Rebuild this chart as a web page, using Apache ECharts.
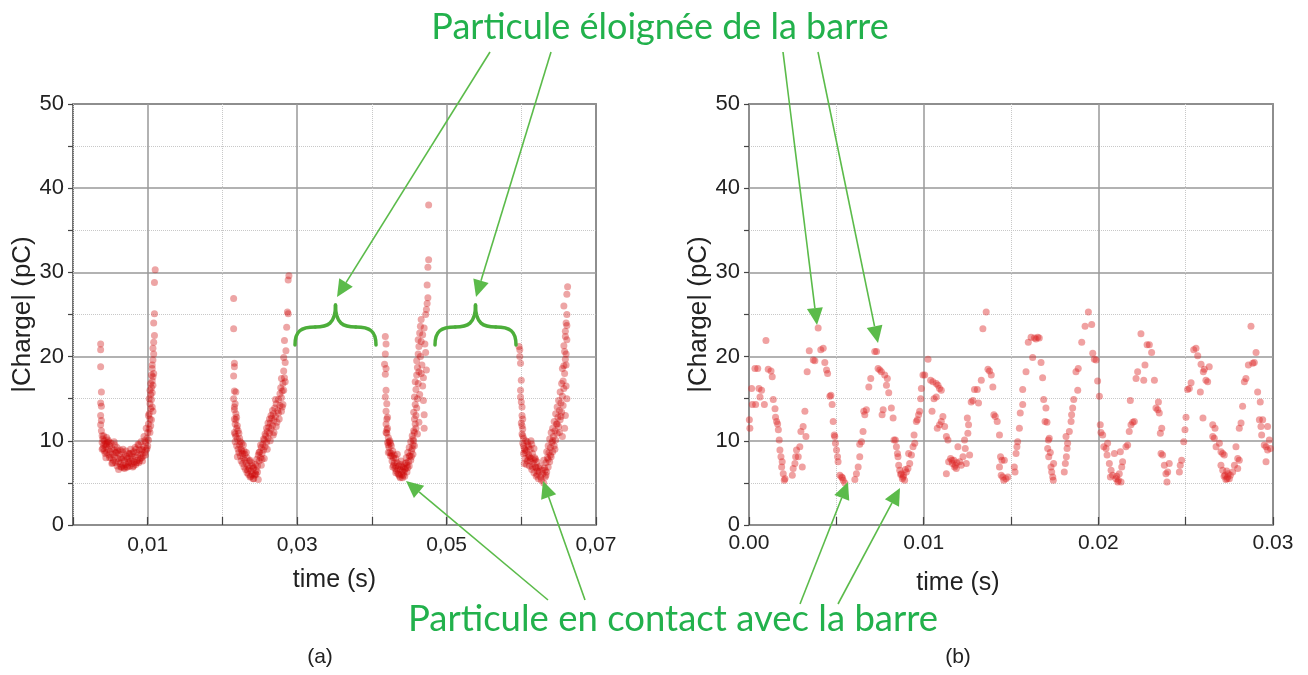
<!DOCTYPE html>
<html>
<head>
<meta charset="utf-8">
<script src="https://cdn.jsdelivr.net/npm/echarts@6/dist/echarts.min.js"></script>
<style>
  html, body { margin: 0; padding: 0; background: #fff; }
  #main { width: 1308px; height: 675px; }
</style>
</head>
<body>
<div id="main"></div>
<script>
// plot (a): time (s), |charge| (pC), four contact bursts
const burstA1 = [[0.0037,21.5],[0.0037,20.8],[0.0037,18.8],[0.0038,15.8],[0.0037,14.5],[0.0038,14.1],[0.0037,13],[0.0038,12.4],[0.0037,11.9],[0.0038,11.2],[0.0039,10.6],[0.0040,10.2],[0.0039,9.8],[0.0041,9.5],[0.0040,9.1],[0.0042,10.0],[0.0043,9.6],[0.0042,8.8],[0.0044,9.3],[0.0045,10.4],[0.0046,9.8],[0.0045,8.6],[0.0047,9.0],[0.0048,8.3],[0.0049,9.4],[0.0050,8.7],[0.0051,8.0],[0.0052,9.1],[0.0053,8.4],[0.0054,7.7],[0.0055,8.9],[0.0056,8.1],[0.0057,7.4],[0.0058,8.6],[0.0059,7.0],[0.0060,7.9],[0.0061,6.6],[0.0062,8.4],[0.0063,7.3],[0.0064,6.9],[0.0065,7.8],[0.0066,8.7],[0.0067,7.1],[0.0068,6.8],[0.0069,7.6],[0.0070,8.3],[0.0071,7.2],[0.0072,6.9],[0.0073,7.9],[0.0074,7.4],[0.0075,8.5],[0.0076,7.0],[0.0077,7.7],[0.0078,8.2],[0.0079,7.3],[0.0080,7.8],[0.0081,8.7],[0.0082,7.5],[0.0083,8.1],[0.0084,7.2],[0.0085,8.6],[0.0086,7.7],[0.0087,8.3],[0.0088,7.4],[0.0089,8.9],[0.0090,7.9],[0.0091,8.4],[0.0092,9.0],[0.0093,7.6],[0.0094,8.2],[0.0095,9.3],[0.0096,8.6],[0.0097,9.8],[0.0098,8.9],[0.0099,10.3],[0.0100,9.4],[0.0100,11.0],[0.0101,10.1],[0.0101,12.0],[0.0102,11.4],[0.0102,13.2],[0.0103,12.6],[0.0103,14.4],[0.0104,13.8],[0.0104,15.5],[0.0105,14.9],[0.0105,16.3],[0.0106,15.7],[0.0106,17.1],[0.0107,16.6],[0.0107,17.6],[0.0106,18.6],[0.0107,19.6],[0.0108,20.3],[0.0107,21.0],[0.0108,21.7],[0.0109,22.5],[0.0108,24.0],[0.0109,25.1],[0.0109,28.8],[0.0110,30.3],
  [0.0044,8.0],[0.0048,9.9],[0.0052,7.3],[0.0056,9.5],[0.0060,8.8],[0.0064,8.0],[0.0068,8.0],[0.0072,8.1],[0.0076,8.5],[0.0080,6.9],[0.0084,9.0],[0.0088,9.5],[0.0092,8.0],[0.0096,10.0],[0.0098,11.5],[0.0103,11.0],[0.0105,12.5],[0.0104,16.8],[0.0106,14.0],
  [0.0039,9.0],[0.0041,10.6],[0.0043,8.5],[0.0045,9.6],[0.0047,10.1],[0.0049,8.0],[0.0051,9.7],[0.0053,7.4],[0.0055,9.9],[0.0057,8.6],[0.0059,9.2],[0.0061,7.5],[0.0063,8.9],[0.0065,6.9],[0.0067,9.0],[0.0069,6.7],[0.0071,8.8],[0.0073,6.9],[0.0075,7.5],[0.0077,9.0],[0.0079,8.5],[0.0081,7.0],[0.0083,9.2],[0.0085,7.4],[0.0087,9.6],[0.0089,7.6],[0.0091,9.9],[0.0093,8.9],[0.0095,10.5],[0.0097,8.3],[0.0099,9.1],[0.0101,13.0],[0.0102,15.0],[0.0103,16.0],[0.0104,11.8],[0.0105,17.8],[0.0106,19.0],[0.0107,13.5],[0.0108,18.0]];
const burstA2 = [[0.0215,26.9],[0.0215,23.3],[0.0216,19.2],[0.0216,18.8],[0.0215,17.7],[0.0216,15.9],[0.0218,15.8],[0.0215,15.0],[0.0217,14.4],[0.0216,13.7],[0.0218,13.2],[0.0216,12.6],[0.0217,12.0],[0.0219,11.5],[0.0216,11.0],[0.0218,10.5],[0.0217,9.9],[0.0219,9.4],[0.0220,10.2],[0.0221,9.0],[0.0222,8.6],[0.0220,8.1],[0.0223,9.5],[0.0224,8.2],[0.0225,7.6],[0.0226,8.8],[0.0227,7.3],[0.0228,8.0],[0.0229,6.9],[0.0230,7.7],[0.0231,6.6],[0.0232,7.3],[0.0233,6.2],[0.0234,7.0],[0.0235,6.0],[0.0236,6.7],[0.0237,5.7],[0.0238,6.4],[0.0239,7.4],[0.0240,6.0],[0.0241,5.5],[0.0242,6.8],[0.0243,5.9],[0.0244,7.2],[0.0245,6.5],[0.0246,7.8],[0.0247,7.0],[0.0248,8.3],[0.0249,7.6],[0.0250,8.7],[0.0251,8.0],[0.0252,9.2],[0.0253,8.5],[0.0254,9.6],[0.0255,8.9],[0.0256,10.1],[0.0257,9.3],[0.0258,10.6],[0.0259,9.8],[0.0260,11.1],[0.0261,10.3],[0.0262,11.6],[0.0263,10.9],[0.0264,12.1],[0.0265,11.4],[0.0266,12.7],[0.0267,11.8],[0.0268,13.2],[0.0269,12.4],[0.0270,13.9],[0.0271,12.9],[0.0272,14.4],[0.0274,13.6],[0.0275,14.9],[0.0277,14.2],[0.0279,15.1],[0.0280,15.9],[0.0281,16.8],[0.0283,17.5],[0.0282,18.3],[0.0284,19.3],[0.0285,20.7],[0.0283,21.9],[0.0286,23.5],[0.0287,25.3],[0.0288,25.1],[0.0288,29.1],[0.0289,29.6],
  [0.0218,12.5],[0.0221,11.2],[0.0223,10.3],[0.0226,9.7],[0.0229,8.8],[0.0233,8.0],[0.0237,7.7],[0.0241,6.7],[0.0244,6.1],[0.0248,5.4],[0.0252,7.1],[0.0256,7.9],[0.0260,9.0],[0.0264,10.0],[0.0268,10.7],[0.0272,11.7],[0.0276,12.6],[0.0279,13.5],[0.0281,14.3],[0.0278,16.3],[0.0282,16.0],
  [0.0216,14.0],[0.0217,10.8],[0.0219,12.8],[0.0220,11.8],[0.0222,10.9],[0.0224,9.9],[0.0225,9.0],[0.0227,8.5],[0.0228,9.5],[0.0230,8.4],[0.0232,8.6],[0.0234,6.5],[0.0236,7.6],[0.0238,5.8],[0.0240,7.0],[0.0242,5.5],[0.0245,6.0],[0.0247,6.3],[0.0249,8.6],[0.0251,9.5],[0.0253,7.8],[0.0255,10.2],[0.0257,10.8],[0.0259,11.5],[0.0261,12.1],[0.0263,12.6],[0.0265,13.0],[0.0267,13.6],[0.0269,11.0],[0.0271,14.9],[0.0273,12.2],[0.0275,13.3],[0.0277,15.6],[0.0279,17.4],[0.0280,14.0],[0.0282,19.9],[0.0284,17.0]];
const burstA3 = [[0.0418,22.4],[0.0419,21.5],[0.0418,20.3],[0.0417,19.1],[0.0419,18.6],[0.0418,17.9],[0.0419,16.0],[0.0418,15.2],[0.0420,14.4],[0.0419,13.5],[0.0420,12.6],[0.0419,12.0],[0.0421,11.5],[0.0420,10.9],[0.0422,10.4],[0.0421,9.8],[0.0423,9.2],[0.0422,8.6],[0.0424,10.0],[0.0425,8.2],[0.0426,9.4],[0.0427,7.6],[0.0428,8.8],[0.0429,7.1],[0.0430,8.3],[0.0431,6.7],[0.0432,7.9],[0.0433,6.4],[0.0434,7.4],[0.0435,6.1],[0.0436,7.0],[0.0437,5.8],[0.0438,6.6],[0.0439,7.6],[0.0440,6.0],[0.0441,5.6],[0.0442,6.9],[0.0443,6.3],[0.0444,7.3],[0.0445,6.7],[0.0446,8.0],[0.0447,7.1],[0.0448,8.6],[0.0449,7.5],[0.0450,9.2],[0.0451,8.2],[0.0452,9.9],[0.0453,8.8],[0.0454,10.6],[0.0455,9.5],[0.0456,11.2],[0.0457,12.6],[0.0456,13.4],[0.0458,14.3],[0.0457,15.2],[0.0459,16.1],[0.0458,17.0],[0.0460,17.8],[0.0461,18.7],[0.0460,19.5],[0.0462,20.3],[0.0463,21.2],[0.0462,22.0],[0.0464,22.8],[0.0465,23.6],[0.0466,24.4],[0.0467,19.0],[0.0468,16.5],[0.0469,14.8],[0.0470,13.1],[0.0471,21.5],[0.0472,25.0],[0.0473,25.6],[0.0474,26.3],[0.0475,27.0],[0.0474,28.5],[0.0475,30.6],[0.0476,31.5],[0.0476,38.0],[0.0470,11.5],[0.0466,18.0],[0.0464,15.5],[0.0463,12.2],[0.0461,10.8],[0.0459,11.5],
  [0.0420,11.3],[0.0423,9.9],[0.0426,8.5],[0.0429,8.0],[0.0432,7.0],[0.0435,6.6],[0.0438,5.6],[0.0441,6.4],[0.0444,5.8],[0.0447,6.3],[0.0450,7.0],[0.0453,8.1],[0.0455,10.2],[0.0457,9.4],[0.0460,13.9],
  [0.0419,11.0],[0.0421,12.8],[0.0422,9.5],[0.0424,8.6],[0.0425,9.7],[0.0427,8.2],[0.0428,6.9],[0.0430,7.4],[0.0432,6.2],[0.0434,8.4],[0.0436,6.0],[0.0438,7.2],[0.0440,6.9],[0.0442,5.9],[0.0444,6.6],[0.0446,7.4],[0.0448,6.8],[0.0450,8.2],[0.0452,7.7],[0.0454,9.1],[0.0455,8.4],[0.0456,10.0],[0.0457,11.0],[0.0458,12.0],[0.0459,13.0],[0.0461,15.0],[0.0462,16.8],[0.0463,18.2],[0.0465,20.0],[0.0466,21.8],[0.0468,22.6],[0.0469,17.5],[0.0470,23.4],[0.0472,20.5],[0.0473,18.4]];
const burstA4 = [[0.0597,21.2],[0.0598,20.8],[0.0598,20.0],[0.0599,19.2],[0.0600,17.2],[0.0599,15.2],[0.0600,14.6],[0.0601,14.0],[0.0601,13.0],[0.0600,12.1],[0.0602,11.4],[0.0601,10.8],[0.0603,10.3],[0.0602,9.7],[0.0604,9.1],[0.0603,8.5],[0.0605,7.9],[0.0604,7.3],[0.0606,10.0],[0.0607,8.8],[0.0608,7.6],[0.0609,9.5],[0.0610,8.3],[0.0611,7.0],[0.0612,9.0],[0.0613,7.9],[0.0614,6.6],[0.0615,8.5],[0.0616,7.3],[0.0617,6.2],[0.0618,8.0],[0.0619,6.9],[0.0620,5.8],[0.0621,7.5],[0.0622,6.4],[0.0623,5.5],[0.0625,7.0],[0.0627,5.3],[0.0629,6.1],[0.0630,5.0],[0.0631,6.8],[0.0632,5.7],[0.0633,7.4],[0.0634,6.3],[0.0635,8.0],[0.0636,6.9],[0.0637,8.6],[0.0638,7.5],[0.0639,9.2],[0.0640,8.1],[0.0641,9.8],[0.0642,8.7],[0.0643,10.5],[0.0644,9.4],[0.0645,11.2],[0.0646,10.1],[0.0647,12.0],[0.0648,10.9],[0.0649,12.8],[0.0650,11.7],[0.0651,13.6],[0.0652,12.5],[0.0653,14.5],[0.0654,13.4],[0.0655,15.3],[0.0656,14.2],[0.0657,16.2],[0.0656,17.1],[0.0658,18.0],[0.0657,18.9],[0.0659,19.7],[0.0658,20.6],[0.0660,20.3],[0.0659,22.4],[0.0661,22.0],[0.0660,24.0],[0.0661,23.7],[0.0657,26.0],[0.0661,27.4],[0.0662,28.3],[0.0660,16.5],[0.0661,15.0],[0.0659,13.0],[0.0658,11.5],[0.0655,10.5],
  [0.0602,12.6],[0.0605,8.9],[0.0608,9.9],[0.0611,8.1],[0.0614,9.6],[0.0617,7.7],[0.0620,6.8],[0.0624,6.3],[0.0626,5.7],[0.0633,5.9],[0.0636,7.8],[0.0639,8.3],[0.0642,10.0],[0.0645,9.0],[0.0648,12.0],[0.0651,11.0],[0.0653,12.9],
  [0.0599,16.0],[0.0601,11.8],[0.0602,10.6],[0.0603,9.4],[0.0605,8.6],[0.0607,7.2],[0.0609,8.0],[0.0610,9.3],[0.0612,7.6],[0.0613,10.0],[0.0615,6.9],[0.0617,9.1],[0.0619,7.8],[0.0621,6.0],[0.0623,6.8],[0.0628,6.5],[0.0630,7.7],[0.0632,6.5],[0.0634,8.7],[0.0636,9.4],[0.0638,10.2],[0.0640,11.0],[0.0642,11.5],[0.0644,12.3],[0.0646,13.2],[0.0648,14.0],[0.0650,14.8],[0.0652,15.8],[0.0654,16.8],[0.0655,18.6],[0.0657,21.3],[0.0659,23.0],[0.0660,19.0],[0.0661,25.0]];

// plot (b): first 30 ms, sampled points
const pointsB = [[0.00005,11.5],[0.00002,12.5],[0.00015,16.2],[0.00019,14.3],[0.00034,18.6],[0.00050,18.6],[0.00038,14.3],[0.00057,16.2],[0.00072,16.0],[0.00063,15.2],[0.00097,21.9],[0.00088,14.3],[0.00110,18.5],[0.00126,18.3],[0.00133,17.6],[0.00139,14.9],[0.00149,13.8],[0.00152,12.8],[0.00158,12.3],[0.00164,12.0],[0.00168,11.3],[0.00173,10.1],[0.00177,8.9],[0.00183,8.1],[0.00190,7.5],[0.00187,6.9],[0.00196,6.1],[0.00202,5.3],[0.00206,5.5],
  [0.00248,5.9],[0.00253,6.7],[0.00263,7.3],[0.00267,8.1],[0.00272,8.9],[0.00282,8.1],[0.00291,9.3],[0.00297,11.1],[0.00310,11.7],[0.00305,6.9],[0.00320,13.5],[0.00326,10.5],[0.00333,18.2],[0.00345,20.7],[0.00368,19.6],[0.00377,19.5],[0.00396,23.4],[0.00411,20.8],[0.00425,21.0],[0.00434,19.3],[0.00444,18.4],[0.00450,18.0],[0.00463,15.3],[0.00469,15.4],[0.00476,14.3],[0.00482,12.3],[0.00488,10.7],[0.00491,10.5],[0.00495,9.7],[0.00501,8.9],[0.00507,8.1],[0.00510,7.5],[0.00520,5.9],[0.00530,5.7],[0.00539,5.3],[0.00549,5.0],[0.00535,5.6],
  [0.00606,5.4],[0.00615,6.1],[0.00625,6.9],[0.00634,8.1],[0.00634,9.6],[0.00644,9.9],[0.00653,11.1],[0.00657,13.5],[0.00672,13.7],[0.00663,13.1],[0.00686,16.4],[0.00697,17.4],[0.00720,20.6],[0.00730,20.6],[0.00739,18.6],[0.00749,18.4],[0.00758,18.2],[0.00768,13.7],[0.00762,13.1],[0.00777,17.8],[0.00792,17.4],[0.00787,16.6],[0.00800,15.7],[0.00815,13.9],[0.00825,12.7],[0.00830,10.1],[0.00838,10.1],[0.00844,9.3],[0.00850,8.5],[0.00853,8.1],[0.00857,7.1],[0.00863,6.5],[0.00872,6.1],[0.00882,5.7],[0.00891,5.3],[0.00901,6.3],[0.00910,6.7],[0.00920,7.3],[0.00914,8.5],[0.00930,8.3],[0.00939,9.3],[0.00949,9.7],[0.00945,10.7],[0.00958,12.3],[0.00964,12.5],[0.00971,13.1],[0.00977,13.5],[0.00983,15.0],[0.00987,16.2],[0.00996,17.8],[0.01006,17.8],[0.00878,5.5],[0.00868,6.0],[0.00885,5.9],[0.00895,6.6],
  [0.01025,19.7],[0.01040,17.2],[0.01053,17.0],[0.01072,16.8],[0.01082,16.6],[0.01091,16.2],[0.01101,16.0],[0.01059,15.0],[0.01072,15.2],[0.01048,13.5],[0.01078,11.5],[0.01091,11.9],[0.01101,12.3],[0.01110,12.9],[0.01120,11.7],[0.01130,10.5],[0.01139,10.1],[0.01130,6.1],[0.01143,7.5],[0.01154,7.9],[0.01162,7.7],[0.01173,7.7],[0.01177,6.9],[0.01187,6.7],[0.01196,9.3],[0.01206,7.5],[0.01215,7.1],[0.01225,8.1],[0.01234,10.1],[0.01238,9.1],[0.01244,7.3],[0.01253,10.9],[0.01263,8.3],[0.01257,11.9],[0.01250,12.7],[0.01165,7.3],[0.01180,7.1],[0.01190,7.4],
  [0.01272,14.6],[0.01282,14.8],[0.01291,16.1],[0.01307,16.1],[0.01314,14.5],[0.01330,17.2],[0.01339,23.3],[0.01358,25.3],[0.01368,18.5],[0.01377,18.3],[0.01387,17.8],[0.01396,16.4],[0.01402,13.1],[0.01410,12.9],[0.01421,12.3],[0.01434,10.7],[0.01440,8.1],[0.01448,7.7],[0.01434,6.9],[0.01444,5.9],[0.01453,5.7],[0.01459,5.3],[0.01482,5.7],[0.01462,7.7],[0.01471,5.5],
  [0.01519,6.9],[0.01523,6.3],[0.01529,8.5],[0.01534,9.3],[0.01538,9.9],[0.01548,11.5],[0.01553,13.3],[0.01567,14.3],[0.01567,16.1],[0.01586,18.2],[0.01599,21.7],[0.01615,22.3],[0.01634,22.2],[0.01643,22.1],[0.01653,22.3],[0.01662,22.2],[0.01624,19.9],[0.01672,19.3],[0.01681,17.5],[0.01687,14.9],[0.01700,13.9],[0.01695,12.3],[0.01706,12.2],[0.01714,10.1],[0.01719,10.3],[0.01710,9.1],[0.01725,8.6],[0.01716,8.1],[0.01729,6.9],[0.01733,6.3],[0.01739,5.7],[0.01742,5.3],[0.01744,7.3],
  [0.01805,6.3],[0.01811,7.3],[0.01817,8.1],[0.01821,9.1],[0.01824,9.7],[0.01815,10.5],[0.01834,11.1],[0.01844,12.3],[0.01847,13.1],[0.01853,13.9],[0.01859,14.9],[0.01882,16.0],[0.01872,18.2],[0.01885,18.6],[0.01905,21.7],[0.01924,23.6],[0.01943,25.3],[0.01962,23.8],[0.01968,20.4],[0.01977,19.7],[0.01987,19.6],[0.01996,17.1],[0.02006,15.3],
  [0.02011,11.9],[0.02015,11.0],[0.02025,10.7],[0.02031,9.3],[0.02044,9.1],[0.02053,9.7],[0.02050,8.3],[0.02063,7.3],[0.02073,6.5],[0.02069,5.7],[0.02082,5.9],[0.02092,8.5],[0.02101,5.5],[0.02111,5.1],[0.02120,6.1],[0.02130,5.1],[0.02134,6.9],[0.02126,8.7],[0.02139,7.5],[0.02158,9.3],[0.02168,9.5],[0.02177,11.1],[0.02187,11.9],[0.02197,12.2],[0.02206,12.3],[0.02183,14.8],[0.02115,5.3],[0.02105,5.8],
  [0.02216,17.4],[0.02225,18.2],[0.02244,22.7],[0.02260,17.2],[0.02267,19.0],[0.02279,21.4],[0.02292,21.4],[0.02305,20.5],[0.02321,17.2],[0.02330,13.9],[0.02340,13.7],[0.02344,14.6],[0.02349,13.3],[0.02355,10.9],[0.02363,11.5],[0.02359,8.5],[0.02368,8.3],[0.02378,7.1],[0.02387,6.1],[0.02397,6.3],[0.02393,5.1],[0.02406,7.3],
  [0.02464,6.3],[0.02469,7.1],[0.02477,7.7],[0.02489,9.9],[0.02496,11.3],[0.02502,12.8],[0.02511,16.1],[0.02521,16.2],[0.02531,16.9],[0.02546,20.8],[0.02559,21.0],[0.02569,20.1],[0.02588,19.1],[0.02601,18.2],[0.02607,18.5],[0.02584,15.8],[0.02616,17.2],[0.02626,17.0],[0.02635,18.8],[0.02599,12.7],
  [0.02655,11.9],[0.02668,11.5],[0.02655,10.5],[0.02664,10.3],[0.02674,9.3],[0.02693,9.7],[0.02702,8.7],[0.02712,8.5],[0.02721,8.3],[0.02702,7.1],[0.02712,6.5],[0.02725,5.9],[0.02737,5.5],[0.02744,6.1],[0.02756,5.9],[0.02769,6.3],[0.02779,7.1],[0.02788,9.3],[0.02798,7.9],[0.02807,7.7],[0.02798,6.7],[0.02730,5.4],[0.02740,5.7],[0.02750,5.5],[0.02720,5.8],[0.02735,6.4],
  [0.02807,11.5],[0.02817,12.1],[0.02826,14.1],[0.02836,17.0],[0.02845,17.4],[0.02859,19.0],[0.02874,23.6],[0.02884,19.2],[0.02893,19.3],[0.02903,20.5],[0.02912,15.8],[0.02927,14.6],[0.02922,12.5],[0.02931,11.7],[0.02935,10.7],[0.02941,12.5],[0.02950,9.5],[0.02960,9.3],[0.02969,11.7],[0.02979,10.1],[0.02969,8.9],[0.02960,7.5],[0.02985,9.1]];

const xTicksA = [0.01, 0.03, 0.05, 0.07];
const xTicksB = ['0.00', '0.01', '0.02', '0.03'];
const yTicks = [0, 10, 20, 30, 40, 50];

const noteTop = 'Particule éloignée de la barre';
const noteBottom = 'Particule en contact avec la barre';
const textGreen = '#22b14c';
const arrowGreen = '#5bbb4a';
const braceGreen = '#4cae3a';
const axisFont = 'Liberation Sans, Arial, sans-serif';

const chart = echarts.init(document.getElementById('main'), null, { renderer: 'canvas' });

// solid grid at the labelled ticks, dotted at the ones in between
function xAxes(gridIndex, max, interval, solid, dotted, fmt) {
    return [{
        gridIndex: gridIndex, type: 'value', min: 0, max: max, interval: interval,
        axisLine: { show: false },
        axisTick: { show: true, inside: true, length: 8, lineStyle: { color: '#444', width: 1.2 } },
        axisLabel: { formatter: fmt, fontSize: 21, color: '#222', margin: 10, fontFamily: axisFont },
        splitLine: { show: true, lineStyle: { color: solid, width: 1.5 } }
    }, {
        gridIndex: gridIndex, type: 'value', min: 0, max: max, interval: interval, position: 'top',
        axisLine: { show: false }, axisTick: { show: false }, axisLabel: { show: false },
        splitLine: { show: true, lineStyle: { color: dotted, width: 1, type: 'dotted' } }
    }];
}

function yAxes(gridIndex) {
    return [{
        gridIndex: gridIndex, type: 'value', min: 0, max: 50, interval: 5,
        name: '|Charge| (pC)', nameLocation: 'middle', nameGap: 37,
        nameTextStyle: { fontSize: 26, color: '#222', fontFamily: axisFont },
        axisLine: { show: false },
        axisTick: { show: true, inside: false, length: 5, lineStyle: { color: '#444', width: 1.2 } },
        axisLabel: {
            fontSize: 22, color: '#222', margin: 9, fontFamily: axisFont,
            formatter: function (v) { return yTicks.indexOf(v) >= 0 ? String(v) : ''; }
        },
        splitLine: { show: true, lineStyle: { color: ['#999', 'rgba(0,0,0,0)'], width: 1.5 } }
    }, {
        gridIndex: gridIndex, type: 'value', min: 0, max: 50, interval: 5, position: 'right',
        axisLine: { show: false }, axisTick: { show: false }, axisLabel: { show: false },
        splitLine: { show: true, lineStyle: { color: ['rgba(0,0,0,0)', '#c8c8c8'], width: 1, type: 'dotted' } }
    }];
}

function fmtA(v) {
    const hit = xTicksA.find(function (t) { return Math.abs(t - v) < 1e-6; });
    return hit === undefined ? '' : hit.toFixed(2).replace('.', ',');
}

function fmtB(v) {
    const k = Math.round(v * 1000);
    return k % 10 === 0 ? xTicksB[k / 10] : '';
}

function arrow(x1, y1, x2, y2) {
    const ang = Math.atan2(y2 - y1, x2 - x1);
    const len = 17, half = 8;
    const bx = x2 - len * Math.cos(ang), by = y2 - len * Math.sin(ang);
    const px = -Math.sin(ang) * half, py = Math.cos(ang) * half;
    return [
        { type: 'line', z: 100, shape: { x1: x1, y1: y1, x2: bx, y2: by }, style: { stroke: arrowGreen, lineWidth: 1.6 } },
        { type: 'polygon', z: 100, shape: { points: [[x2, y2], [bx + px, by + py], [bx - px, by - py]] }, style: { fill: arrowGreen } }
    ];
}

// horizontal curly brace, ends at the bottom, cusp pointing up
function brace(x0, x1, yEnd, yBar, yPeak) {
    const xc = (x0 + x1) / 2;
    const q1 = (x0 + xc) / 2, q2 = (xc + x1) / 2;
    const st = { stroke: braceGreen, lineWidth: 3.5, fill: null, lineCap: 'round' };
    const seg = function (a, b, c, d, e, f, g, h) {
        return { type: 'bezierCurve', z: 100, shape: { x1: a, y1: b, cpx1: c, cpy1: d, cpx2: e, cpy2: f, x2: g, y2: h }, style: st };
    };
    return [
        seg(x0, yEnd, x0, yBar + 4, x0 + 6, yBar, q1, yBar),
        seg(q1, yBar, xc - 8, yBar, xc, yBar - 3, xc, yPeak),
        seg(xc, yPeak, xc, yBar - 3, xc + 8, yBar, q2, yBar),
        seg(q2, yBar, x1 - 6, yBar, x1, yBar + 4, x1, yEnd)
    ];
}

function label(text, x, y, size, color, family) {
    return {
        type: 'text', z: 100, x: x, y: y,
        style: { text: text, fontSize: size, fill: color, fontFamily: family, textAlign: 'center', textVerticalAlign: 'middle' }
    };
}

const xa = xAxes(0, 0.07, 0.01, ['rgba(0,0,0,0)', '#999'], ['#c8c8c8', 'rgba(0,0,0,0)'], fmtA);
const xb = xAxes(1, 0.03, 0.005, ['#999', 'rgba(0,0,0,0)'], ['rgba(0,0,0,0)', '#c8c8c8'], fmtB);
xa[0].name = 'time (s)';
xa[0].nameLocation = 'middle';
xa[0].nameGap = 43;
xa[0].nameTextStyle = { fontSize: 25, color: '#222', fontFamily: axisFont };
xb[0].axisLabel.margin = 8;

const gridStyle = { show: true, borderColor: '#444', borderWidth: 1.5, backgroundColor: 'rgba(0,0,0,0)', outerBoundsMode: 'none' };

const graphics = [].concat(
    arrow(490, 52, 337, 297), arrow(551, 52, 476, 297),
    arrow(783, 52, 817, 325), arrow(818, 52, 878, 343),
    arrow(548, 600, 406, 481), arrow(585, 600, 543, 481),
    arrow(800, 604, 848, 482), arrow(838, 604, 900, 488),
    brace(295, 376, 345, 327, 305), brace(435, 516, 345, 327, 305),
    [
        label(noteTop, 660, 27, 36, textGreen, 'Lato, sans-serif'),
        label(noteBottom, 673, 619, 36.5, textGreen, 'Lato, sans-serif'),
        label('time (s)', 958, 583, 25, '#222', axisFont),
        label('(a)', 320, 657, 21, '#222', axisFont),
        label('(b)', 958, 657, 21, '#222', axisFont)
    ]
);

const option = {
    animation: false,
    backgroundColor: '#fff',
    grid: [
        Object.assign({ left: 73, top: 104, width: 523, height: 421 }, gridStyle),
        Object.assign({ left: 749, top: 104, width: 524, height: 421 }, gridStyle)
    ],
    xAxis: xa.concat(xb),
    yAxis: yAxes(0).concat(yAxes(1)),
    series: [
        {
            type: 'scatter', xAxisIndex: 0, yAxisIndex: 0, symbol: 'circle', symbolSize: 7,
            itemStyle: { color: 'rgba(205,5,5,0.45)' },
            data: [].concat(burstA1, burstA2, burstA3, burstA4)
        },
        {
            type: 'scatter', xAxisIndex: 2, yAxisIndex: 2, symbol: 'circle', symbolSize: 7,
            itemStyle: { color: 'rgba(220,40,40,0.55)' },
            data: pointsB
        }
    ],
    graphic: graphics
};

chart.setOption(option);
</script>
</body>
</html>
